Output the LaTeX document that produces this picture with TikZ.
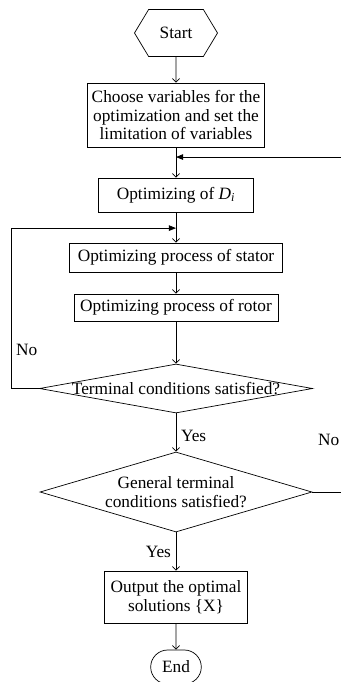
\documentclass[tikz,border=0pt]{standalone}
\usepackage{fontspec}
\setmainfont{Liberation Serif}
\usetikzlibrary{arrows.meta, positioning, shapes.geometric, shapes.misc, shapes.symbols, calc}

\begin{document}
\begin{tikzpicture}[
            > = {Straight Barb[length=0.9mm, width=1.8mm]}, % arrow head style
            font = \fontsize{12.3}{13.3}\selectfont,
            line width = 0.5pt, % line style
            node distance = 2cm % distance between nodes
        ]

        \tikzstyle{process}=[
            draw = black,
            rectangle,
            align = center,
            inner sep = 1pt
        ]
        \tikzstyle{decision}=[
            draw = black,
            diamond,
            inner sep = 0pt
        ]
        \tikzstyle{merge}=[-{Triangle[length=1.8mm, width=1.4mm]}]

        \useasboundingbox (-4.4,0.825) rectangle (4.125,-16.225);
        \clip (-4.4,0.825) rectangle (4.125,-16.225);

        \node[draw, signal, signal to=west and east, signal pointer angle=118, minimum width=2.075cm, minimum height=1.175cm] (start) at (0,0) {Start};
        \node[process, minimum width=4.425cm, minimum height=1.6cm] (choose) [below of=start, node distance=2.05cm] {Choose variables for the\\optimization and set the\\limitation of variables};
        \node[process, minimum width=3.875cm, minimum height=0.85cm] (opdi) [below of=choose, node distance=2cm] {Optimizing of \textit{D\textsubscript{i}}};
        \node[process, minimum width=5.325cm, minimum height=0.725cm] (stator) [below of=opdi, node distance=1.5625cm] {Optimizing process of stator};
        \node[process, minimum width=5.1cm, minimum height=0.675cm] (rotor) [below of=stator, node distance=1.25cm] {Optimizing process of rotor};
        \node[decision, minimum width=6.825cm, minimum height=1.225cm, label=center:{Terminal conditions satisfied?}] (term) [below of=rotor, node distance=2.025cm] {};
        \node[decision, minimum width=6.8cm, minimum height=2cm, label={[align=center]center:General terminal\\conditions satisfied?}] (general) [below of=term, node distance=2.5875cm] {};
        \node[process, minimum width=3.575cm, minimum height=1.3cm] (output) [below of=general, node distance=2.625cm] {Output the optimal\\solutions \{X\}};
        \node[draw, rounded rectangle, minimum width=1.5cm, minimum height=0.85cm] (end) [below of=output, node distance=1.75cm] {End};

        \coordinate (m1) at ($(choose.south)!0.32!(opdi.north)$);
        \coordinate (m2) at ($(opdi.south)!0.52!(stator.north)$);

        \draw[->] (start) -- (choose);
        \draw[->] (choose) -- (opdi);
        \draw[->] (opdi) -- (stator);
        \draw[->] (stator) -- (rotor);
        \draw[->] (rotor) -- (term);
        \draw[->] (term) -- node[right, pos=0.6] {Yes} (general);
        \draw[->] (general) -- node[left] {Yes} (output);
        \draw[->] (output) -- (end);
        \draw[merge] (term.west) -- ++(-0.7,0) |- node[pos=0.12, right] {No} (m2);
        \draw[merge] (general.east) -- ++(0.8,0) |- node[pos=0.078, left] {No} (m1);
    \end{tikzpicture}
\end{document}
